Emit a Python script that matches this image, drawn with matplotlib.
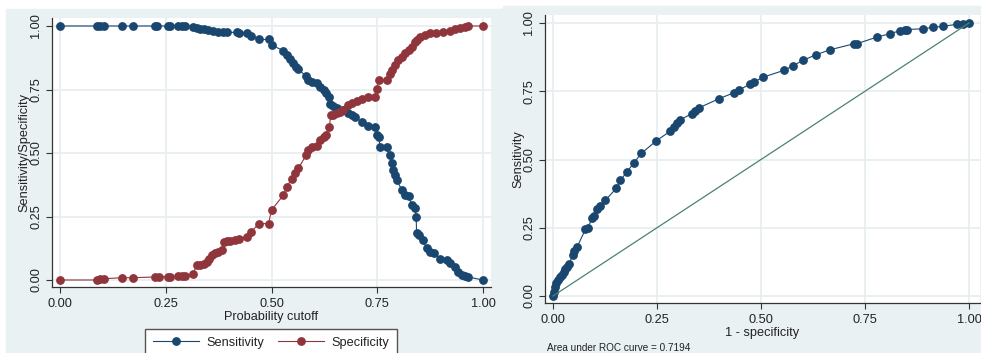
"""Sensitivity/specificity vs cutoff and ROC curve, Stata-style panels."""
import matplotlib
matplotlib.use("Agg")
import matplotlib.pyplot as plt
from matplotlib.patches import Rectangle
from matplotlib.lines import Line2D

# --- data ------------------------------------------------------------------
sens_cut = [0.0, 0.087, 0.095, 0.104, 0.146, 0.173, 0.225, 0.229, 0.255, 0.259,
            0.280, 0.288, 0.296, 0.314, 0.323, 0.331, 0.340, 0.350, 0.362, 0.374,
            0.386, 0.394, 0.418, 0.424, 0.443, 0.451, 0.471, 0.493, 0.500, 0.528,
            0.536, 0.544, 0.552, 0.558, 0.563, 0.582, 0.587, 0.595, 0.607, 0.615,
            0.623, 0.630, 0.637, 0.638, 0.646, 0.654, 0.670, 0.682, 0.690, 0.697,
            0.713, 0.729, 0.745, 0.749, 0.753, 0.757, 0.772, 0.780, 0.784, 0.788,
            0.792, 0.796, 0.808, 0.816, 0.824, 0.832, 0.839, 0.842, 0.843, 0.849,
            0.857, 0.867, 0.875, 0.883, 0.898, 0.914, 0.922, 0.934, 0.942, 0.950,
            0.957, 0.965, 1.0]
sens = [1.0, 1.0, 1.0, 1.0, 1.0, 1.0, 1.0, 1.0, 1.0, 1.0,
        1.0, 1.0, 1.0, 0.997, 0.991, 0.988, 0.987, 0.984, 0.980, 0.978,
        0.976, 0.975, 0.975, 0.974, 0.971, 0.962, 0.947, 0.947, 0.925, 0.903,
        0.886, 0.869, 0.853, 0.840, 0.829, 0.803, 0.787, 0.781, 0.777, 0.761,
        0.748, 0.735, 0.721, 0.692, 0.687, 0.679, 0.669, 0.656, 0.649, 0.643,
        0.623, 0.606, 0.603, 0.570, 0.564, 0.524, 0.524, 0.491, 0.459, 0.433,
        0.414, 0.394, 0.355, 0.335, 0.329, 0.296, 0.283, 0.250, 0.184, 0.177,
        0.158, 0.126, 0.112, 0.106, 0.084, 0.078, 0.065, 0.051, 0.032, 0.018,
        0.014, 0.012, 0.0]

spec_cut = [0.0, 0.087, 0.095, 0.104, 0.146, 0.173, 0.225, 0.233, 0.255, 0.259,
            0.280, 0.288, 0.296, 0.314, 0.323, 0.331, 0.340, 0.347, 0.353, 0.359,
            0.366, 0.374, 0.382, 0.388, 0.394, 0.402, 0.414, 0.424, 0.443, 0.451,
            0.471, 0.493, 0.500, 0.528, 0.536, 0.548, 0.556, 0.563, 0.582, 0.587,
            0.595, 0.607, 0.615, 0.623, 0.630, 0.637, 0.640, 0.646, 0.654, 0.662,
            0.670, 0.682, 0.690, 0.701, 0.713, 0.729, 0.745, 0.749, 0.753, 0.772,
            0.780, 0.784, 0.792, 0.800, 0.808, 0.816, 0.824, 0.831, 0.839, 0.843,
            0.851, 0.863, 0.875, 0.890, 0.906, 0.922, 0.934, 0.946, 0.957, 0.965,
            1.0]
spec = [0.0, 0.0, 0.003, 0.005, 0.009, 0.009, 0.012, 0.012, 0.013, 0.013,
        0.014, 0.014, 0.014, 0.022, 0.058, 0.060, 0.064, 0.070, 0.084, 0.097,
        0.106, 0.110, 0.117, 0.150, 0.152, 0.152, 0.159, 0.163, 0.170, 0.189,
        0.222, 0.222, 0.275, 0.334, 0.367, 0.399, 0.422, 0.439, 0.491, 0.511,
        0.524, 0.527, 0.551, 0.564, 0.570, 0.603, 0.649, 0.649, 0.656, 0.662,
        0.669, 0.689, 0.698, 0.704, 0.711, 0.719, 0.719, 0.751, 0.787, 0.787,
        0.811, 0.827, 0.846, 0.866, 0.879, 0.893, 0.906, 0.919, 0.938, 0.945,
        0.955, 0.964, 0.971, 0.974, 0.978, 0.980, 0.988, 0.994, 0.997, 1.0,
        1.0]

fpr = [0.0, 0.002, 0.004, 0.007, 0.011, 0.016, 0.021, 0.026, 0.030, 0.034,
       0.038, 0.048, 0.051, 0.058, 0.078, 0.083, 0.094, 0.098, 0.106, 0.112,
       0.126, 0.152, 0.162, 0.178, 0.195, 0.212, 0.248, 0.282, 0.291, 0.298,
       0.306, 0.334, 0.342, 0.352, 0.398, 0.434, 0.446, 0.474, 0.482, 0.506,
       0.556, 0.578, 0.600, 0.633, 0.666, 0.724, 0.730, 0.778, 0.810, 0.833,
       0.846, 0.850, 0.890, 0.914, 0.938, 0.970, 0.986, 1.0]
tpr = [0.0, 0.016, 0.032, 0.046, 0.059, 0.068, 0.077, 0.089, 0.098, 0.107,
       0.117, 0.150, 0.166, 0.180, 0.244, 0.248, 0.284, 0.293, 0.317, 0.329,
       0.351, 0.394, 0.424, 0.455, 0.489, 0.522, 0.568, 0.604, 0.620, 0.632,
       0.646, 0.668, 0.678, 0.690, 0.722, 0.744, 0.754, 0.776, 0.783, 0.802,
       0.827, 0.844, 0.863, 0.884, 0.902, 0.924, 0.924, 0.948, 0.961, 0.971,
       0.973, 0.976, 0.979, 0.984, 0.988, 0.995, 0.998, 1.0]

auc = 0.7194
ticks = [0.0, 0.25, 0.5, 0.75, 1.0]
tick_labels = ["0.00", "0.25", "0.50", "0.75", "1.00"]

NAVY = "#1a476f"
MAROON = "#90353b"
REF = "#4b8272"
BG = "#e9f1f3"
GRID = "#e8eff1"
TXT = "#222222"

plt.rcParams["font.family"] = ["Liberation Sans", "DejaVu Sans"]
plt.rcParams["font.size"] = 9.2

W, H = 981, 353
fig = plt.figure(figsize=(W / 100, H / 100), dpi=100, facecolor="white")

# graph region backgrounds (pixel boxes converted to figure fractions)
fig.patches.append(Rectangle((6 / W, 0), (503 - 6) / W, 1 - 9 / H,
                             transform=fig.transFigure, color=BG, zorder=-5))
fig.patches.append(Rectangle((503 / W, 0), (W - 503) / W, 1 - 6 / H,
                             transform=fig.transFigure, color=BG, zorder=-5))


def style(ax):
    ax.set_facecolor("white")
    for s in ("top", "right"):
        ax.spines[s].set_visible(False)
    for s in ("left", "bottom"):
        ax.spines[s].set_color("#333333")
        ax.spines[s].set_linewidth(0.9)
    ax.set_xticks(ticks)
    ax.set_xticklabels(tick_labels)
    ax.set_yticks(ticks)
    ax.set_yticklabels(tick_labels, rotation=90, va="center")
    ax.tick_params(length=4, width=0.8, color="#333333", labelcolor=TXT)
    ax.tick_params(axis="x", pad=4)
    ax.tick_params(axis="y", pad=3)
    ax.grid(color=GRID, lw=1.3)
    ax.set_axisbelow(True)


# --- left: sensitivity / specificity vs cutoff ------------------------------
ax1 = fig.add_axes([52 / W, 1 - 287 / H, (491 - 52) / W, (287 - 18) / H])
style(ax1)
ax1.plot(sens_cut, sens, "o-", color=NAVY, ms=5.3, lw=0.8, clip_on=False)
ax1.plot(spec_cut, spec, "o-", color=MAROON, ms=5.3, lw=0.8, clip_on=False)
ax1.set_xlim((52 - 60) / 423, (491 - 60) / 423)
ax1.set_ylim(-(287 - 280) / 254, 1 + (26 - 18) / 254)
ax1.set_xlabel("Probability cutoff", color=TXT)
ax1.xaxis.set_label_coords(0.5, -(317 - 287) / 269)
ax1.xaxis.label.set_va("center")
ax1.set_ylabel("Sensitivity/Specificity", color=TXT)
ax1.yaxis.set_label_coords(-(52 - 24) / 439, 0.5)
ax1.yaxis.label.set_va("center")

handles = [Line2D([], [], color=NAVY, marker="o", ms=5.3, lw=0.8),
           Line2D([], [], color=MAROON, marker="o", ms=5.3, lw=0.8)]
fig.legend(handles, ["Sensitivity", "Specificity"], ncol=2,
           loc="upper left", bbox_to_anchor=(145 / W, 1 - 329 / H),
           borderaxespad=0, frameon=True, fancybox=False,
           edgecolor="#555555", facecolor="white", framealpha=1,
           handlelength=3.6, columnspacing=1.1, borderpad=0.6,
           handletextpad=0.6, fontsize=9.2, labelcolor=TXT)

# --- right: ROC curve ---------------------------------------------------------
ax2 = fig.add_axes([545 / W, 1 - 303 / H, (980 - 545) / W, (303 - 15) / H])
style(ax2)
ax2.plot(fpr, tpr, "o-", color=NAVY, ms=5.3, lw=0.8, clip_on=False)
ax2.plot([0, 1], [0, 1], color=REF, lw=0.9)
ax2.set_xlim((545 - 553) / 416, (980 - 553) / 416)
ax2.set_ylim(-(303 - 296) / 273, 1 + (23 - 15) / 273)
ax2.set_xlabel("1 - specificity", color=TXT)
ax2.xaxis.set_label_coords(0.5, -(333 - 303) / 288)
ax2.xaxis.label.set_va("center")
ax2.set_ylabel("Sensitivity", color=TXT)
ax2.yaxis.set_label_coords(-(545 - 518) / 435, 0.5)
ax2.yaxis.label.set_va("center")
fig.text(547 / W, 1 - 348 / H, f"Area under ROC curve = {auc:.4f}",
         fontsize=7.2, color=TXT, ha="left", va="center")

fig.savefig("out.png", dpi=100, facecolor="white")
